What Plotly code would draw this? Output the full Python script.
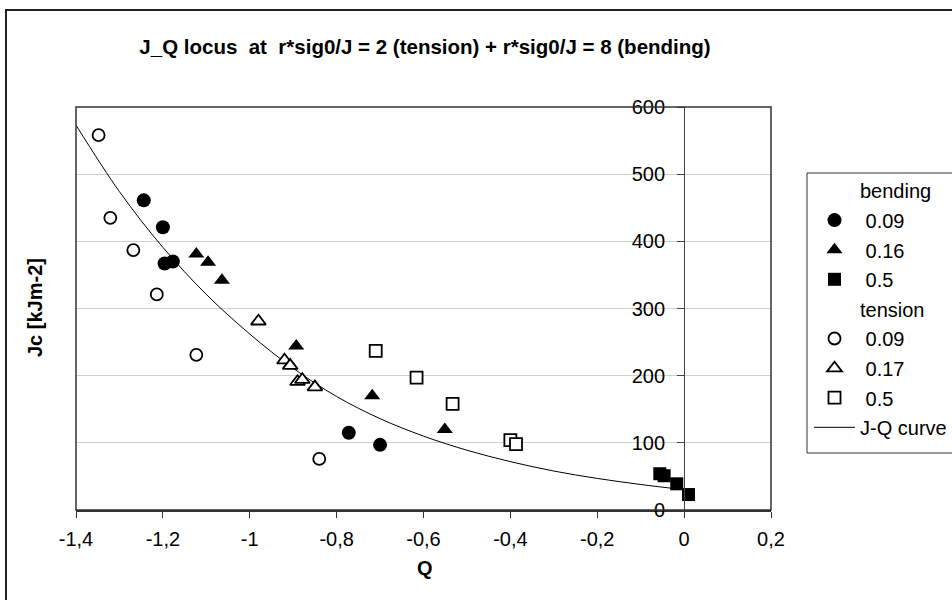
import plotly.graph_objects as go

# ---- data ----
bend_009_q = [-1.244, -1.200, -1.196, -1.177, -0.772, -0.700]
bend_009_j = [461, 421, 367, 370, 115, 97]
bend_016_q = [-1.123, -1.096, -1.064, -0.893, -0.718, -0.551]
bend_016_j = [381, 369, 342, 244, 170, 120]
bend_05_q = [-0.056, -0.046, -0.017, 0.010]
bend_05_j = [54, 51, 39, 23]

tens_009_q = [-1.348, -1.321, -1.268, -1.214, -1.123, -0.840]
tens_009_j = [558, 435, 387, 321, 231, 76]
tens_017_q = [-0.980, -0.920, -0.907, -0.890, -0.879, -0.850]
tens_017_j = [281, 223, 215, 191, 194, 183]
tens_05_q = [-0.710, -0.616, -0.533, -0.400, -0.387]
tens_05_j = [237, 197, 158, 104, 98]

curve_q = [-1.40, -1.30, -1.20, -1.10, -1.00, -0.90, -0.80, -0.70,
           -0.60, -0.50, -0.40, -0.30, -0.20, -0.10, -0.01]
curve_j = [573, 474, 391, 321, 262, 211, 169, 136,
           110, 89, 72, 58, 47, 38, 31]

x_range = [-1.4, 0.2]
y_range = [0, 600]
x_ticks = [-1.4, -1.2, -1.0, -0.8, -0.6, -0.4, -0.2, 0.0, 0.2]
x_tick_text = ["-1,4", "-1,2", "-1", "-0,8", "-0,6", "-0,4", "-0,2", "0", "0,2"]
y_ticks = [0, 100, 200, 300, 400, 500, 600]
y_tick_text = ["0", "100", "200", "300", "400", "500", "600"]

FONT = "Liberation Sans, Arial, sans-serif"
W, H = 952, 600
ML, MR, MT, MB = 76, 181, 107, 90
PW, PH = W - ML - MR, H - MT - MB


def px_x(p):
    return (p - ML) / PW


def px_y(p):
    return (H - MB - p) / PH


fig = go.Figure()

# curve first (drawn beneath markers)
fig.add_trace(go.Scatter(x=curve_q, y=curve_j, mode="lines", name="J-Q curve",
                         line=dict(color="black", width=1, shape="spline", smoothing=1),
                         legendrank=9, legendgroup="g9"))


def header(name, rank):
    fig.add_trace(go.Scatter(x=[None], y=[None], mode="markers", name=name,
                             marker=dict(size=1, color="rgba(0,0,0,0)"),
                             legendrank=rank, legendgroup="g%d" % rank))


header("bending", 1)
fig.add_trace(go.Scatter(x=bend_009_q, y=bend_009_j, mode="markers", name="\u00a00.09",
                         marker=dict(symbol="circle", size=14, color="black"),
                         legendrank=2, legendgroup="g2"))
fig.add_trace(go.Scatter(x=bend_016_q, y=bend_016_j, mode="markers", name="\u00a00.16",
                         marker=dict(symbol="triangle-up", size=14, color="black"),
                         legendrank=3, legendgroup="g3"))
fig.add_trace(go.Scatter(x=bend_05_q, y=bend_05_j, mode="markers", name="\u00a00.5",
                         marker=dict(symbol="square", size=13, color="black"),
                         legendrank=4, legendgroup="g4"))
header("tension", 5)
fig.add_trace(go.Scatter(x=tens_009_q, y=tens_009_j, mode="markers", name="\u00a00.09",
                         marker=dict(symbol="circle", size=12, color="white",
                                     line=dict(color="black", width=1.8)),
                         legendrank=6, legendgroup="g6"))
fig.add_trace(go.Scatter(x=tens_017_q, y=tens_017_j, mode="markers", name="\u00a00.17",
                         marker=dict(symbol="triangle-up", size=13, color="white",
                                     line=dict(color="black", width=1.8)),
                         legendrank=7, legendgroup="g7"))
fig.add_trace(go.Scatter(x=tens_05_q, y=tens_05_j, mode="markers", name="\u00a00.5",
                         marker=dict(symbol="square", size=12, color="white",
                                     line=dict(color="black", width=1.8)),
                         legendrank=8, legendgroup="g8"))

y_pos = (0 - x_range[0]) / (x_range[1] - x_range[0])

fig.update_layout(
    width=W, height=H,
    margin=dict(l=ML, r=MR, t=MT, b=MB, autoexpand=False),
    paper_bgcolor="white", plot_bgcolor="white",
    font=dict(family=FONT, size=20, color="black"),
    showlegend=True,
    title=dict(text="J_Q locus\u00a0\u00a0at\u00a0\u00a0r*sig0/J = 2 (tension) + r*sig0/J = 8 (bending)",
               font=dict(family=FONT, size=20.5, color="black", weight="bold"),
               x=425 / W, xanchor="center", y=1 - 47 / H, yanchor="middle"),
    xaxis=dict(range=x_range, tickvals=x_ticks, ticktext=x_tick_text,
               ticks="outside", ticklen=6, tickcolor="#333",
               ticklabelstandoff=4,
               showgrid=False, zeroline=False,
               showline=True, linecolor="#333", linewidth=1.5,
               tickfont=dict(family=FONT, size=20), fixedrange=True),
    yaxis=dict(range=y_range, tickvals=y_ticks, ticktext=y_tick_text,
               ticks="outside", ticklen=7, tickcolor="#444",
               ticklabelstandoff=8,
               showgrid=True, gridcolor="#cfcfcf", gridwidth=1,
               zeroline=False, showline=True, linecolor="#444", linewidth=1,
               anchor="free", position=y_pos, side="left",
               tickfont=dict(family=FONT, size=20), fixedrange=True),
    legend=dict(x=px_x(809), y=px_y(171), xanchor="left", yanchor="top",
                bgcolor="rgba(0,0,0,0)", borderwidth=0,
                font=dict(family=FONT, size=20, color="black"),
                traceorder="grouped", tracegroupgap=0.6, itemwidth=41),
    shapes=[
        # legend box
        dict(type="rect", xref="paper", yref="paper", x0=px_x(807), x1=px_x(W + 20),
             y0=px_y(453), y1=px_y(173), line=dict(color="#333", width=1),
             fillcolor="rgba(0,0,0,0)", layer="below"),
        # plot-area frame
        dict(type="rect", xref="paper", yref="paper", x0=0, x1=1, y0=0, y1=1,
             line=dict(color="#333", width=1.5), layer="above"),
        # outer chart frame
        dict(type="rect", xref="paper", yref="paper", x0=px_x(6), x1=px_x(W + 20),
             y0=px_y(H + 20), y1=px_y(10), line=dict(color="#222", width=2),
             layer="above"),
    ],
    annotations=[
        dict(text="<b>Q</b>", xref="paper", yref="paper", x=px_x(425), y=px_y(568),
             xanchor="center", yanchor="middle", showarrow=False,
             font=dict(family=FONT, size=20)),
        dict(text="<b>Jc [kJm-2]</b>", xref="paper", yref="paper", x=px_x(35), y=px_y(308),
             xanchor="center", yanchor="middle", showarrow=False, textangle=-90,
             font=dict(family=FONT, size=20)),
    ],
)

fig.write_html("out.html", config={"displayModeBar": False},
               post_script="document.body.style.margin='0';")
